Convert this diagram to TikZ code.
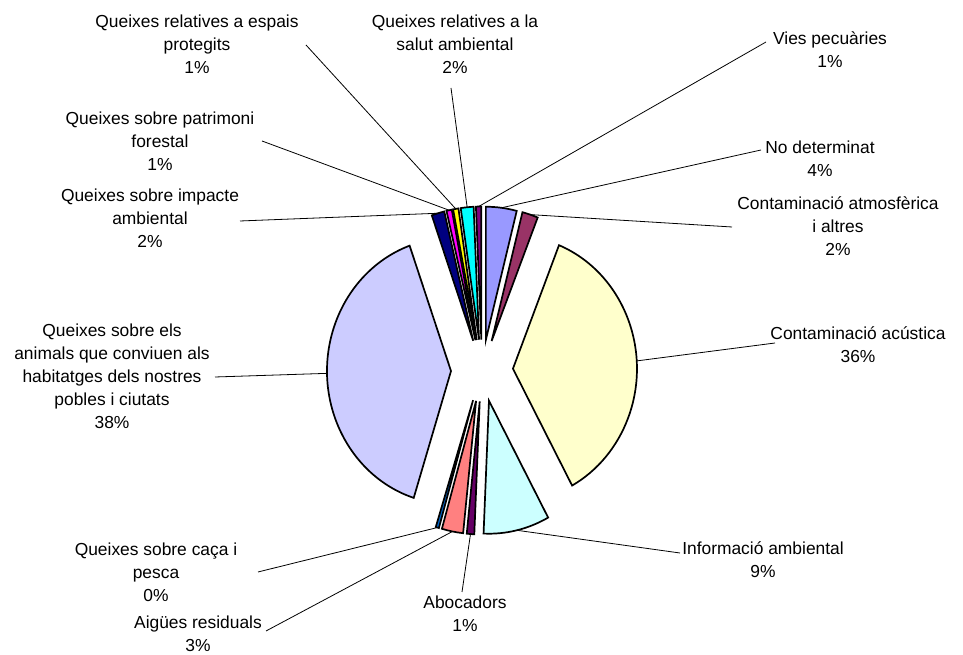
\documentclass[tikz,border=0pt]{standalone}
\usepackage{fontspec}
\setmainfont{Liberation Sans}
\usetikzlibrary{calc}
\definecolor{cNodet}{HTML}{9999FF}
\definecolor{cAtmos}{HTML}{993366}
\definecolor{cAcust}{HTML}{FFFFCC}
\definecolor{cInfo}{HTML}{CCFFFF}
\definecolor{cAboc}{HTML}{660066}
\definecolor{cAigues}{HTML}{FF8080}
\definecolor{cCaca}{HTML}{0066CC}
\definecolor{cAnimals}{HTML}{CCCCFF}
\definecolor{cImpacte}{HTML}{000080}
\definecolor{cPatrim}{HTML}{FF00FF}
\definecolor{cEspais}{HTML}{FFFF00}
\definecolor{cSalut}{HTML}{00FFFF}
\definecolor{cVies}{HTML}{800080}
\newcommand\pslice[4]{%
  \pgfmathsetmacro\pmid{(#2+#3)/2}%
  \filldraw[slice, fill=#4] ($(c)+(\pmid:31)$) -- ++(#2:124 and 133)
    arc[start angle=#2, end angle=#3, x radius=124, y radius=133] -- cycle;
  \coordinate (#1) at ($(c)+(\pmid:31)+(\pmid:124 and 133)$);
}
\begin{document}
\begin{tikzpicture}[x=1pt,y=1pt,
  slice/.style={draw=black, line width=1.7pt},
  lbl/.style={align=center, font=\fontsize{17.4}{23}\selectfont, inner sep=0pt},
  leader/.style={draw=black, line width=0.8pt}]
\useasboundingbox (0,0) rectangle (963,655);
\coordinate (c) at (482,284.5);
% slices, clockwise from 12 o'clock
\pslice{nodet}{90}{75.6}{cNodet}
\pslice{atmos}{75.6}{68.2}{cAtmos}
\pslice{acust}{68.2}{-61.5}{cAcust}
\pslice{info}{-61.5}{-92.5}{cInfo}
\pslice{aboc}{-92.5}{-96}{cAboc}
\pslice{aigues}{-96}{-106}{cAigues}
\pslice{caca}{-106}{-107.5}{cCaca}
\pslice{animals}{-107.5}{-250.5}{cAnimals}
\pslice{impacte}{109.5}{103.5}{cImpacte}
\pslice{patrim}{103.5}{101}{cPatrim}
\pslice{espais}{101}{98.5}{cEspais}
\pslice{salut}{98.5}{92.5}{cSalut}
\pslice{vies}{92.5}{90}{cVies}
% labels
\node[lbl] (t-espais) at (197,611) {Queixes relatives a espais\\protegits\\1\%};
\node[lbl] (t-salut) at (455,611) {Queixes relatives a la\\salut ambiental\\2\%};
\node[lbl] (t-vies) at (830,605) {Vies pecuàries\\1\%};
\node[lbl] (t-nodet) at (820,496) {No determinat\\4\%};
\node[lbl] (t-atmos) at (838,429) {Contaminació atmosfèrica\\i altres\\2\%};
\node[lbl] (t-acust) at (858,310) {Contaminació acústica\\36\%};
\node[lbl] (t-info) at (763,95) {Informació ambiental\\9\%};
\node[lbl] (t-aboc) at (465,41) {Abocadors\\1\%};
\node[lbl] (t-aigues) at (198,21) {Aigües residuals\\3\%};
\node[lbl] (t-caca) at (156,83) {Queixes sobre caça i\\pesca\\0\%};
\node[lbl] (t-animals) at (112,279) {Queixes sobre els\\animals que conviuen als\\habitatges dels nostres\\pobles i ciutats\\38\%};
\node[lbl] (t-impacte) at (150,437) {Queixes sobre impacte\\ambiental\\2\%};
\node[lbl] (t-patrim) at (160,514) {Queixes sobre patrimoni\\forestal\\1\%};
% leader line starts
\coordinate (l-espais) at (306,610);
\coordinate (l-salut) at (451,567);
\coordinate (l-vies) at (766,613);
\coordinate (l-nodet) at (761,505);
\coordinate (l-atmos) at (732,428);
\coordinate (l-acust) at (775,312);
\coordinate (l-info) at (680,102);
\coordinate (l-aboc) at (462,63);
\coordinate (l-aigues) at (266,24);
\coordinate (l-caca) at (258,83);
\coordinate (l-animals) at (215,278);
\coordinate (l-impacte) at (240,434);
\coordinate (l-patrim) at (262,514);
\foreach \n in {espais,salut,vies,nodet,atmos,acust,info,aboc,aigues,caca,animals,impacte,patrim}
  \draw[leader] (l-\n) -- (\n);
\end{tikzpicture}
\end{document}
